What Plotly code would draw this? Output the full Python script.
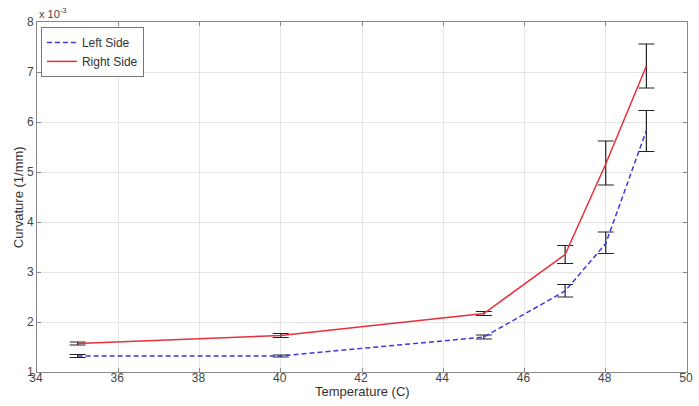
import plotly.graph_objects as go

temperature = [35, 40, 45, 47, 48, 49]
left_side = [1.32, 1.32, 1.70, 2.62, 3.57, 5.83]
left_err_plus = [0.03, 0.02, 0.04, 0.13, 0.23, 0.40]
left_err_minus = [0.03, 0.02, 0.04, 0.12, 0.20, 0.42]
right_side = [1.57, 1.73, 2.17, 3.35, 5.16, 7.12]
right_err_plus = [0.03, 0.04, 0.04, 0.18, 0.46, 0.44]
right_err_minus = [0.03, 0.04, 0.04, 0.18, 0.42, 0.44]
x_ticks = [34, 36, 38, 40, 42, 44, 46, 48, 50]
y_ticks = [1, 2, 3, 4, 5, 6, 7, 8]

font = "Liberation Sans, Arial, sans-serif"
fig = go.Figure()
fig.add_trace(go.Scatter(
    x=temperature, y=left_side, mode="lines", name="Left Side",
    line=dict(color="#3a3ae0", width=1.5, dash="5px,3px"),
    error_y=dict(type="data", array=left_err_plus, arrayminus=left_err_minus,
                 color="#222222", thickness=1.2, width=8, symmetric=False),
))
fig.add_trace(go.Scatter(
    x=temperature, y=right_side, mode="lines", name="Right Side",
    line=dict(color="#e8303a", width=1.5),
    error_y=dict(type="data", array=right_err_plus, arrayminus=right_err_minus,
                 color="#222222", thickness=1.2, width=8, symmetric=False),
))

axis_common = dict(
    showgrid=True, gridcolor="#e4e4e4", gridwidth=1,
    showline=True, linecolor="#888888", linewidth=1, mirror="ticks",
    ticks="inside", ticklen=4, tickcolor="#888888",
    tickfont=dict(family=font, size=12, color="#444444"),
    zeroline=False,
)
fig.update_layout(
    width=699, height=406,
    margin=dict(l=37, r=6, t=22, b=34),
    paper_bgcolor="white", plot_bgcolor="white",
    font=dict(family=font, color="#333333"),
    showlegend=True,
    legend=dict(x=0.006, y=0.986, xanchor="left", yanchor="top",
                bgcolor="white", bordercolor="#777777", borderwidth=1,
                font=dict(family=font, size=12, color="#333333"),
                tracegroupgap=0, itemwidth=30),
    xaxis=dict(range=[34, 50], tickvals=x_ticks, ticklabelshift=-1,
               ticklabelstandoff=-5, ticklabeloverflow="allow", **axis_common),
    yaxis=dict(range=[1, 8], tickvals=y_ticks, **axis_common),
)
fig.add_annotation(x=0.5, y=-(391 - 372) / 350, xref="paper", yref="paper",
                   text="Temperature (C)", showarrow=False,
                   xanchor="center", yanchor="middle",
                   font=dict(family=font, size=13, color="#333333"))
fig.add_annotation(x=-(37 - 18) / 656, y=0.5, xref="paper", yref="paper",
                   text="Curvature (1/mm)", textangle=-90, showarrow=False,
                   xanchor="center", yanchor="middle",
                   font=dict(family=font, size=13, color="#333333"))
fig.add_annotation(x=0, y=1, xref="paper", yref="paper", xanchor="left", yanchor="bottom",
                   text="x 10<sup>-3</sup>", showarrow=False,
                   font=dict(family=font, size=11, color="#444444"))
fig.write_html("out.html", config={"displayModeBar": False},
               post_script="document.body.style.margin='0';")
